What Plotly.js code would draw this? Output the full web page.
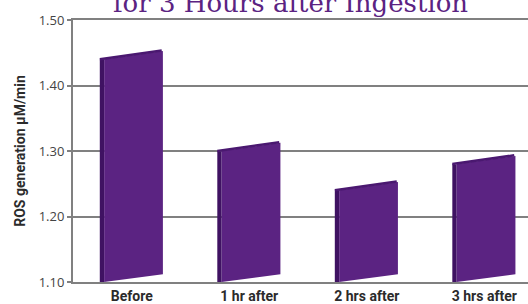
<!DOCTYPE html>
<html>
<head>
<meta charset="utf-8">
<script src="https://cdn.plot.ly/plotly-3.0.1.min.js"></script>
<style>html,body{margin:0;padding:0;background:#fff;}#chart{width:528px;height:304px;}</style>
</head>
<body>
<div id="chart"></div>
<script>
const categories = ["Before", "1 hr after", "2 hrs after", "3 hrs after"];
const rosValues = [1.44, 1.30, 1.24, 1.28];
const yTickVals = [1.10, 1.20, 1.30, 1.40, 1.50];
const titleText = "for 3 Hours after Ingestion";
const yTitle = "ROS generation μM/min";

const base = 1.10;
const slope = 0.0125;
const faceL = -0.235, faceR = 0.265, sideL = -0.272;
const frontColor = "#5b2382";
const sideColor = "#3f1262";
const topColor = "#4a1870";

const traces = [];
rosValues.forEach((v, i) => {
  traces.push({
    type: "scatter", mode: "lines", fill: "toself",
    x: [i + sideL, i + sideL, i + faceL, i + faceL, i + sideL],
    y: [base, v, v - 0.001, base, base],
    fillcolor: sideColor, line: {width: 0, color: sideColor},
    hoverinfo: "skip", showlegend: false
  });
  traces.push({
    type: "scatter", mode: "lines", fill: "toself",
    x: [i + faceL, i + faceL, i + faceR, i + faceR, i + faceL],
    y: [base, v, v + slope, base + slope * 0.95, base],
    fillcolor: frontColor, line: {width: 0, color: frontColor},
    hoverinfo: "skip", showlegend: false
  });
  traces.push({
    type: "scatter", mode: "lines",
    x: [i + sideL, i + faceR - 0.01],
    y: [v, v + slope + 0.001],
    line: {width: 2.5, color: topColor},
    hoverinfo: "skip", showlegend: false
  });
});

const gray = "#808080";
const layout = {
  width: 528, height: 304,
  margin: {l: 73, r: 0, t: 20, b: 22, pad: 0},
  paper_bgcolor: "#ffffff", plot_bgcolor: "#ffffff",
  showlegend: false,
  xaxis: {
    type: "linear", range: [-0.5, 3.372],
    tickmode: "array", tickvals: [0, 1, 2, 3], ticktext: categories,
    showgrid: false, zeroline: false, ticks: "",
    showline: true, mirror: true, linecolor: gray, linewidth: 2,
    tickfont: {family: "Roboto", size: 14, color: "#2b2b2b", weight: "bold"},
    fixedrange: true
  },
  yaxis: {
    range: [1.10, 1.50],
    tickmode: "array", tickvals: yTickVals, ticktext: yTickVals.map(t => t.toFixed(2)),
    showgrid: true, gridcolor: gray, gridwidth: 2, zeroline: false,
    showline: true, linecolor: gray, linewidth: 2,
    ticks: "outside", ticklen: 4, tickcolor: gray, tickwidth: 2,
    tickfont: {family: "Open Sans", size: 13, color: "#444444"},
    title: {text: yTitle, font: {family: "Roboto", size: 14, color: "#2b2b2b", weight: "bold"}, standoff: 10},
    fixedrange: true
  },
  annotations: [{
    text: titleText, xref: "paper", yref: "paper", x: 0.479, y: 1,
    xanchor: "center", yanchor: "bottom", yshift: 0, showarrow: false,
    font: {family: "DejaVu Serif", size: 26, color: "#5b2382"}
  }]
};

Plotly.newPlot("chart", traces, layout, {displayModeBar: false, staticPlot: true});
</script>
</body>
</html>
